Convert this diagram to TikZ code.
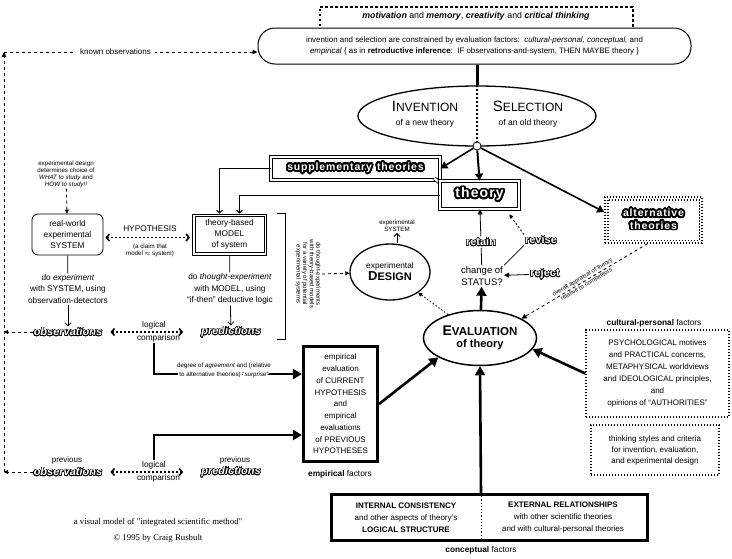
\documentclass[tikz,border=0pt]{standalone}
\usepackage{fontspec}
\setmainfont{Liberation Sans}
\newfontfamily\capfont{Liberation Serif}
\newfontfamily\blobfont[LetterSpace=8]{Liberation Sans}
\usepackage[copies]{contour}
\contournumber{32}
\usetikzlibrary{arrows.meta,shapes.geometric,calc}
\newcommand\outl[1]{{\contourlength{0.55pt}\color{white}\contour{black}{#1}}}
\newcommand\blob[1]{{\contourlength{1.7pt}\color{white}\contour{black}{#1}}}
\newcommand\halo[1]{{\contourlength{1.3pt}\contour{white}{#1}}}
\newcommand\blobtxt[2]{\blob{\blobfont\bfseries\fontsize{#1}{#1}\selectfont #2}}
\newcommand\oblq[1]{\outl{\bfseries\itshape\fontsize{11}{11}\selectfont #1}}
\newcommand\obup[1]{\outl{\bfseries\fontsize{11}{11}\selectfont #1}}
\begin{document}
\begin{tikzpicture}[x=1pt,y=-1pt,
 every node/.style={font=\fontsize{8}{9.5}\selectfont, inner sep=1pt, align=center},
 microtxt/.style={font=\fontsize{6.2}{7}\selectfont},
 ln/.style={line width=0.8pt},
 openarr/.style={ln, -{Straight Barb[length=3pt,width=6pt]}},
 smallarr/.style={ln, -{Triangle[length=5pt,width=5pt]}},
 fatarr/.style={line width=2.6pt, -{Triangle[length=9pt,width=10pt]}},
 midarr/.style={line width=1.6pt, -{Triangle[length=7pt,width=8pt]}},
 dotarr/.style={line width=1.6pt, dash pattern=on 2pt off 2pt,
   {Straight Barb[length=3pt,width=7pt,line width=1.6pt]}-{Straight Barb[length=3pt,width=7pt,line width=1.6pt]}},
 dashln/.style={ln, dash pattern=on 3pt off 3pt},
 dotbox/.style={draw, line width=1.3pt, dash pattern=on 1.3pt off 1.7pt},
 dbl/.style={draw, double, double distance=2.2pt, line width=0.8pt, fill=white, inner sep=0pt},
 fatbox/.style={draw, line width=2.6pt},
]
\useasboundingbox (0,0) rectangle (732,558);

% ---------- top ----------
\node[draw, line width=1.8pt, dash pattern=on 2.5pt off 2.5pt, minimum width=313pt, minimum height=32pt, anchor=north west] (motivbox) at (319,6) {};
\node[font=\fontsize{8.8}{10}\selectfont] (motiv) at (476,16) {\textbf{\textit{motivation}} and \textbf{\textit{memory}}, \textbf{\textit{creativity}} and \textbf{\textit{critical thinking}}};
\node[draw, line width=1pt, rounded corners=17pt, minimum width=433pt, minimum height=36pt, fill=white, font=\fontsize{7.9}{11.6}\selectfont] (constr) at (474.5,46)
 {invention and selection are constrained by evaluation factors:\ \ \textit{cultural-personal, conceptual,} and\\
  \textit{empirical} \{ as in \textbf{retroductive inference}:\ \ IF observations-and-system, THEN MAYBE theory \}};

\coordinate (lt) at (4,52);
\coordinate (lb) at (4,472);
\draw[dashln, -{Triangle[length=5pt,width=4.5pt]}] (lb) -- (lt);
\draw[dashln, -{Triangle[length=5pt,width=4.5pt]}] (lt) -- node[pos=0.44, fill=white, inner sep=4pt] (knownobs) {known observations} ([yshift=-6pt]constr.west);

% ---------- invention / selection ----------
\node[draw, ellipse, line width=1.3pt, minimum width=238pt, minimum height=60pt] (invsel) at (477,116) {};
\draw[line width=3pt] (constr.south -| invsel.north) -- (invsel.north);
\draw[line width=1.5pt, dash pattern=on 2pt off 2pt] (invsel.north) -- (invsel.south);
\node (invT) at (425,106) {{\fontsize{15}{15}\selectfont I}{\fontsize{12}{12}\selectfont NVENTION}};
\node (invS) at (425,123) {\fontsize{8.5}{10}\selectfont of a new theory};
\node (selT) at (528,106) {{\fontsize{15}{15}\selectfont S}{\fontsize{12}{12}\selectfont ELECTION}};
\node (selS) at (528,123) {\fontsize{8.5}{10}\selectfont of an old theory};
\node[circle, draw, fill=white, line width=0.8pt, minimum size=8pt, inner sep=0pt] (hub) at (477,146) {};

% ---------- theories ----------
\node[dbl, minimum width=169pt, minimum height=23pt] (supp) at (355.5,168.5)
 {\blobtxt{10.5}{supplementary}\hspace{5pt}\blobtxt{10.5}{theories}};
\draw[double, double distance=2.2pt, line width=0.8pt] ([shift={(-6pt,1.9pt)}]supp.south east) -- ([shift={(4pt,-6pt)}]supp.south east);
\node[dbl, minimum width=79pt, minimum height=28pt] (theory) at (479.5,195) {\blobtxt{14}{theory}};
\node[dotbox, minimum width=97pt, minimum height=46pt, inner sep=0pt] (alt) at (653.5,220)
 {\blobtxt{10.5}{alternative}\\[3pt]\blobtxt{10.5}{theories}};
\draw[line width=1.3pt, dash pattern=on 1.3pt off 1.7pt] ([shift={(3.5pt,-3.5pt)}]alt.north west) rectangle ([shift={(-3.5pt,3.5pt)}]alt.south east);

\draw[midarr] (hub) -- (supp.east);
\draw[midarr, line width=2pt] (hub) -- (theory.north);
\draw[midarr] (hub) -- ([yshift=8pt]alt.west);

% ---------- model / system ----------
\node[draw, ln, fill=white, minimum width=74pt, minimum height=41pt, font=\fontsize{8.3}{11.2}\selectfont] (model) at (229.5,234.5) {theory-based\\MODEL\\of system};
\draw[ln] ([shift={(3pt,-3pt)}]model.north west) rectangle ([shift={(-3pt,3pt)}]model.south east);
\node[draw, ln, rounded corners=6pt, minimum width=71pt, minimum height=41pt, font=\fontsize{8.3}{11.2}\selectfont] (system) at (67.5,234.5) {real-world\\experimental\\SYSTEM};
\draw[openarr] (supp.west) -| ([xshift=-10pt]model.north);
\draw[openarr] (theory.west) -| ([xshift=10pt]model.north);

\node[microtxt] (edn) at (66,174) {experimental design\\determines choice of\\\textit{WHAT to study} and\\\textit{HOW to study!!}};
\draw[dashln, -{Triangle[length=4pt,width=4pt]}] (edn) -- (system);

\node[font=\fontsize{8.3}{10}\selectfont] (hyp) at (150,229) {HYPOTHESIS};
\node[microtxt] (claim) at (150,250) {(a claim that\\model $\approx$ system)};
\draw[dotarr, shorten <=2pt, shorten >=2pt] ([yshift=-3pt]system.east) -- ([yshift=-3pt]model.west);

\node[font=\fontsize{8.3}{11.5}\selectfont] (dexp) at (68,289) {do \textit{experiment}\\with SYSTEM, using\\observation-detectors};
\node[font=\fontsize{8.3}{11.5}\selectfont] (dth) at (230,289) {do \textit{thought-experiment}\\with MODEL, using\\``if-then'' deductive logic};
\node (obs) at (68,332) {\oblq{observations}};
\node (pred) at (231,332) {\oblq{predictions}};
\draw[ln] (system) -- (dexp);
\draw[openarr] (dexp) -- (obs);
\draw[ln] (model) -- (dth);
\draw[openarr] (dth) -- (pred);
\draw[dashln, -{Triangle[length=4pt,width=4pt]}] (obs.west) -- (obs.west -| lt);

\node[font=\fontsize{8.3}{13}\selectfont] (lc1) at (154,331.5) {logical\\\hspace*{9pt}comparison};
\draw[dotarr, shorten <=7pt, shorten >=17pt] (obs.east) -- (pred.west);

% bracket and rotated note
\draw[ln] (277,213) -- (285,213) -- (285,339) -- (277,339);
\node[font=\fontsize{6}{6.6}\selectfont, rotate=-90] (varnote) at (308,274) {do thought-experiments\\with theory-based models\\for a variety of potential\\experimental systems};

% ---------- design ----------
\node[draw, ellipse, line width=1.3pt, minimum width=80pt, minimum height=56pt, inner sep=0pt, font=\fontsize{8.3}{12}\selectfont] (design) at (390,272)
 {experimental\\{\bfseries\fontsize{13}{13}\selectfont D}{\bfseries\fontsize{11}{11}\selectfont ESIGN}};
\draw[dashln, -{Triangle[length=4pt,width=4pt]}] (varnote.north) -- (design);
\node[microtxt] (expsys) at (397,226) {experimental\\SYSTEM};
\draw[openarr] (design.north -| expsys) -- (expsys);

% ---------- status ----------
\node[font=\fontsize{9.5}{12}\selectfont] (status) at (482,276) {change of\\STATUS?};
\node (retain) at (481,242) {\obup{retain}};
\node (revise) at (541,240) {\obup{revise}};
\node (reject) at (545,274) {\obup{reject}};
\draw[ln] (status) -- (retain);
\draw[smallarr] (retain) -- (theory);
\draw[ln, dash pattern=on 2pt off 2pt, -{Triangle[length=4pt,width=4pt]}] (revise.north west) -- ($(theory.south east)+(-10,5)$);
\draw[ln] (status.north east) -- (revise.south west);
\draw[smallarr] (reject) -- (status);

% ---------- evaluation ----------
\node[draw, ellipse, line width=1.5pt, minimum width=113pt, minimum height=55pt, inner sep=0pt] (eval) at (480,338)
 {{\bfseries\fontsize{14}{14}\selectfont E}{\bfseries\fontsize{11.5}{11.5}\selectfont VALUATION}\\[2pt]{\bfseries\fontsize{11}{11}\selectfont of theory}};
\draw[fatarr] (eval) -- (status);
\draw[ln, dash pattern=on 1.5pt off 2pt, -{Triangle[length=4pt,width=4pt]}] (eval) -- (design);
\draw[dashln, -{Triangle[length=5pt,width=5pt]}] ([xshift=-6pt]alt.south) -- node[sloped, font=\fontsize{6}{8}\selectfont, inner sep=0pt] (appr) {overall appraisal of theory\\relative to competitors} (eval.25);

% ---------- cultural ----------
\node[font=\fontsize{8.3}{10}\selectfont] (cultlbl) at (654,323) {\textbf{cultural-personal} factors};
\node[dotbox, minimum width=143pt, minimum height=87pt, font=\fontsize{8}{12}\selectfont] (cult) at (657.5,373.5)
 {PSYCHOLOGICAL motives\\and PRACTICAL concerns,\\METAPHYSICAL worldviews\\and IDEOLOGICAL principles,\\and\\opinions of ``AUTHORITIES''};
\draw[fatarr] (cult.west) -- (eval.-12);
\node[dotbox, minimum width=128pt, minimum height=50pt, font=\fontsize{8}{11}\selectfont] (think) at (655,450)
 {thinking styles and criteria\\for invention, evaluation,\\and experimental design};

% ---------- empirical ----------
\node[fatbox, minimum width=74.5pt, minimum height=115.5pt, font=\fontsize{8}{11.75}\selectfont] (emp) at (340.5,404)
 {empirical\\evaluation\\of CURRENT\\HYPOTHESIS\\and\\empirical\\evaluations\\of PREVIOUS\\HYPOTHESES};
\node[font=\fontsize{8.3}{10}\selectfont] (empl) at (340,474) {\textbf{empirical} factors};
\draw[fatarr] (emp.east) -- (eval.-155);
\draw[fatarr] (lc1.south) |- ([yshift=30pt]emp.west);
\node[font=\fontsize{6.2}{7}\selectfont, inner sep=0pt] (degree) at (224,371)
 {\halo{degree of \textit{agreement} and (relative}\\\halo{to alternative theories) ``\textit{surprise}''}};

% ---------- previous row ----------
\node (pobs) at (68,472) {\oblq{observations}};
\node (pobsl) at (67,460) {previous};
\node (ppred) at (231,472) {\oblq{predictions}};
\node (ppredl) at (235,460) {previous};
\node[font=\fontsize{8.3}{13}\selectfont] (lc2) at (154,471.5) {logical\\\hspace*{9pt}comparison};
\draw[dotarr, shorten <=7pt, shorten >=17pt] (pobs.east) -- (ppred.west);
\draw[dashln, -{Triangle[length=4pt,width=4pt]}] (pobs.west) -- (lb);
\draw[fatarr] (lc2.north) |- ([yshift=-31pt]emp.west);

% ---------- conceptual ----------
\node[fatbox, minimum width=316.5pt, minimum height=46.5pt] (concept) at (489.5,517.5) {};
\draw[ln, dash pattern=on 1.2pt off 2pt] ([xshift=-8.5pt]concept.north) -- ([xshift=-8.5pt]concept.south);
\draw[fatarr] ([xshift=-8.5pt]concept.north) -- (eval.south);
\node[font=\fontsize{8}{12}\selectfont] (intl) at (406,518) {\textbf{INTERNAL CONSISTENCY}\\and other aspects of theory's\\\textbf{LOGICAL STRUCTURE}};
\node[font=\fontsize{8}{12}\selectfont] (extl) at (563,518) {\textbf{EXTERNAL RELATIONSHIPS}\\with other scientific theories\\and with cultural-personal theories};
\node[font=\fontsize{8.3}{10}\selectfont] (concl) at (481,550) {\textbf{conceptual} factors};

% ---------- caption ----------
\node[font=\capfont\fontsize{8.8}{16}\selectfont] (cap) at (158,530) {a visual model of "integrated scientific method"\\\textcopyright\ 1995 by Craig Rusbult};
\end{tikzpicture}
\end{document}
